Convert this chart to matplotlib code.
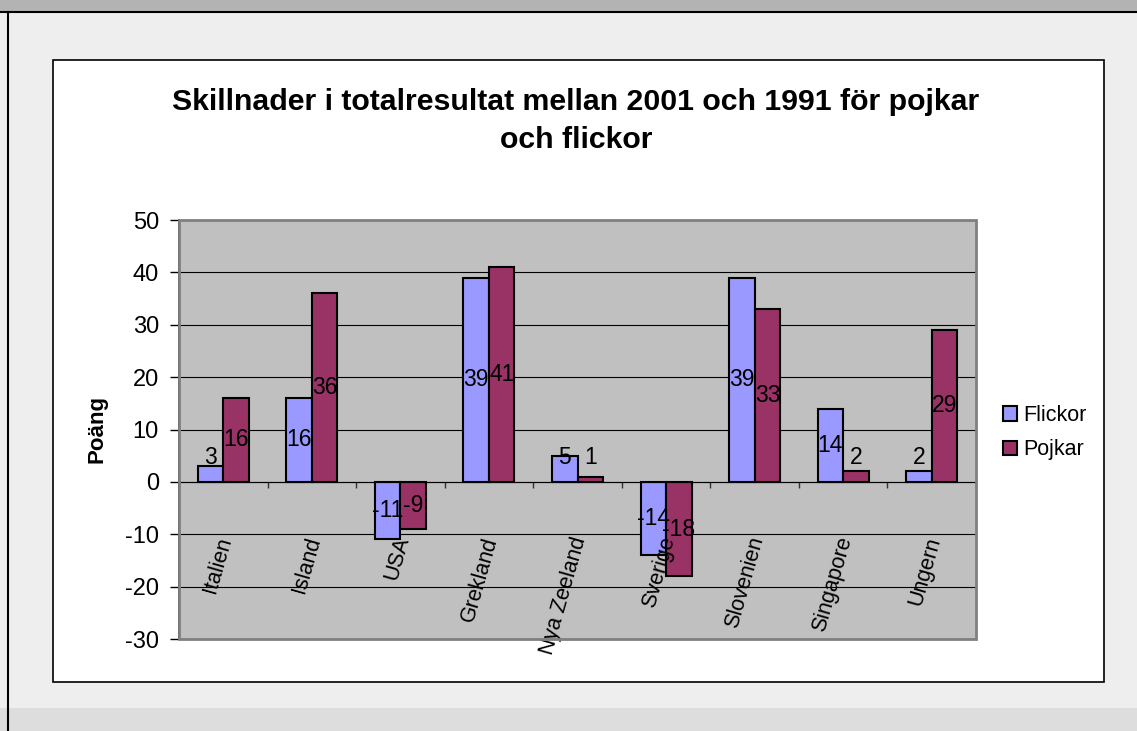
import numpy as np
import matplotlib
matplotlib.use("Agg")
import matplotlib.pyplot as plt
from matplotlib.patches import Rectangle, Patch

plt.rcParams["font.family"] = ["Liberation Sans", "DejaVu Sans"]
plt.rcParams["axes.unicode_minus"] = False

# data
countries = ["Italien", "Island", "USA", "Grekland", "Nya Zeeland",
             "Sverige", "Slovenien", "Singapore", "Ungern"]
flickor = [3, 16, -11, 39, 5, -14, 39, 14, 2]
pojkar = [16, 36, -9, 41, 1, -18, 33, 2, 29]
yticks = [-30, -20, -10, 0, 10, 20, 30, 40, 50]

title_lines = ["Skillnader i totalresultat mellan 2001 och 1991 för pojkar",
               "och flickor"]

W, H = 1137, 731
c_flickor = "#9999ff"
c_pojkar = "#993366"


def fx(px):
    return px / W


def fy(py):
    return 1 - py / H


def main():
    fig = plt.figure(figsize=(W / 100, H / 100), dpi=100, facecolor="#eeeeee")

    # window frame bits
    fig.patches.append(Rectangle((0, fy(12)), 1, fy(0) - fy(12), transform=fig.transFigure,
                                 facecolor="#b3b3b3", edgecolor="none", zorder=0))
    fig.patches.append(Rectangle((0, 0), 1, fy(708), transform=fig.transFigure,
                                 facecolor="#dddddd", edgecolor="none", zorder=0))
    fig.lines.append(plt.Line2D([0, 1], [fy(12), fy(12)], transform=fig.transFigure,
                                color="black", lw=1.5))
    fig.lines.append(plt.Line2D([fx(8), fx(8)], [0, fy(12)], transform=fig.transFigure,
                                color="black", lw=1.5))
    # white chart box
    fig.patches.append(Rectangle((fx(53), fy(682)), fx(1104) - fx(53), fy(60) - fy(682),
                                 transform=fig.transFigure, facecolor="white",
                                 edgecolor="black", lw=1.2, zorder=0.5))

    ax = fig.add_axes([fx(179), fy(639), fx(976) - fx(179), fy(220) - fy(639)])
    ax.set_zorder(2)
    ax.set_facecolor("#c0c0c0")

    x = np.arange(len(countries)) + 0.5
    w = 0.288
    ax.bar(x - w / 2, flickor, w, color=c_flickor, edgecolor="black", lw=1.5, zorder=3)
    ax.bar(x + w / 2, pojkar, w, color=c_pojkar, edgecolor="black", lw=1.5, zorder=3)

    ax.set_xlim(0, len(countries))
    ax.set_ylim(-30, 50)
    ax.set_yticks(yticks)
    ax.tick_params(axis="y", labelsize=17, length=6.5, width=1, pad=8, direction="out")
    ax.yaxis.grid(True, color="black", lw=0.8, zorder=1)
    ax.set_axisbelow(True)

    for s in ["top", "right"]:
        ax.spines[s].set_visible(False)
    ax.spines["left"].set_color("black")
    ax.spines["left"].set_linewidth(1.2)
    ax.spines["bottom"].set_position(("data", 0))
    ax.spines["bottom"].set_zorder(4)
    ax.set_xticks(np.arange(len(countries) + 1))
    ax.set_xticklabels([])
    ax.tick_params(axis="x", length=4.5, width=1, direction="out", colors="#333333")

    # gray frame of the plot area
    ax.add_patch(Rectangle((0, 0), 1, 1, transform=ax.transAxes, fill=False,
                           edgecolor="#808080", lw=2, zorder=5, clip_on=False))

    # category labels
    for xi, name in zip(x, countries):
        ax.text(xi + 0.03, -10.6, name, rotation=74, rotation_mode="anchor",
                ha="right", va="center", fontsize=15.5)

    # value labels
    for xs, vals in [(x - w / 2, flickor), (x + w / 2, pojkar)]:
        for xi, v in zip(xs, vals):
            yp = max(v / 2, 4.6) if v > 0 else v / 2
            ax.text(xi, yp, str(v), ha="center", va="center", fontsize=16.5, zorder=6)

    fig.text(fx(576), fy(110), title_lines[0], ha="center", va="baseline",
             fontsize=21.8, fontweight="bold")
    fig.text(fx(576), fy(148), title_lines[1], ha="center", va="baseline",
             fontsize=21.8, fontweight="bold")
    fig.text(fx(97), fy(429), "Poäng", rotation=90, ha="center", va="center",
             fontsize=16, fontweight="bold")

    handles = [Patch(facecolor=c_flickor, edgecolor="black", lw=1.5, label="Flickor"),
               Patch(facecolor=c_pojkar, edgecolor="black", lw=1.5, label="Pojkar")]
    fig.legend(handles=handles, loc="upper left", bbox_to_anchor=(fx(1003), fy(405)),
               frameon=False, fontsize=15.5, handlelength=0.65, handleheight=0.65,
               handletextpad=0.3, labelspacing=0.62, borderpad=0, borderaxespad=0)

    fig.savefig("out.png", dpi=100, facecolor=fig.get_facecolor())


if __name__ == "__main__":
    main()
